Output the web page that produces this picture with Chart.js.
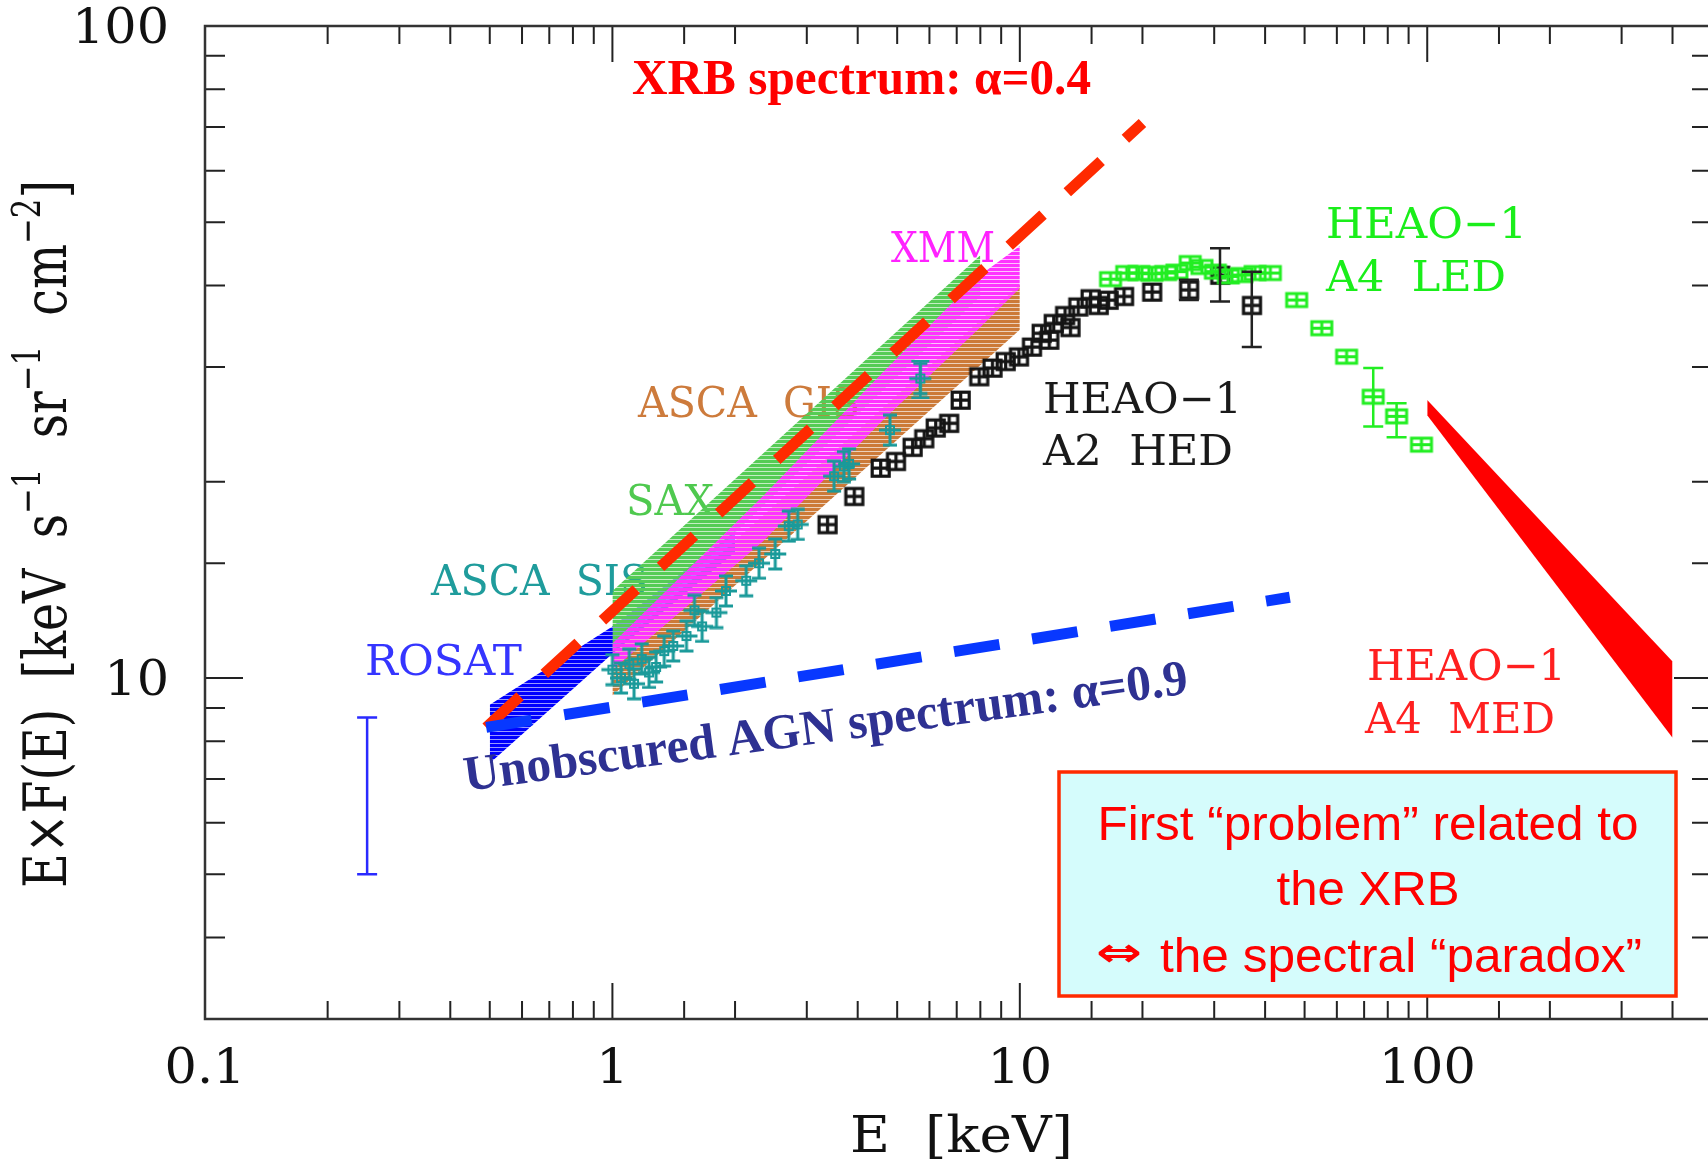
<!DOCTYPE html>
<html>
<head>
    <style>
        body, html {
            margin: 0;
            padding: 0;
            overflow: hidden;
            background: #fff;
        }

        #container {
            width: 1720px;
            height: 1162px;
        }
    </style>
    <script src="https://cdn.jsdelivr.net/npm/chart.js"></script>
</head>
<body>
    <div id="container">
        <canvas id="xrbChart"></canvas>
    </div>

    <script>
        // tick labels
        const xTickVals = [0.1, 1, 10, 100];
        const xTickLabels = ['0.1', '1', '10', '100'];
        const yTickVals = [10, 100];
        const yTickLabels = ['10', '100'];

        // bands (E in keV, upper / lower E*F(E))
        const rosatE = [0.5, 1.0, 2.0];
        const rosatHi = [9.1, 12.0, 16.8];
        const rosatLo = [7.4, 10.9, 15.6];
        const saxE = [1.0, 8.0];
        const saxHi = [13.6, 44.5];
        const saxLo = [11.0, 38.5];
        const xmmE = [1.0, 2.34, 4.6, 8.0, 10.0];
        const xmmHi = [11.3, 19.0, 29.4, 41.5, 46.0];
        const xmmLo = [10.3, 16.2, 24.8, 34.5, 39.6];
        const gisE = [1.0, 10.0];
        const gisHi = [11.0, 40.1];
        const gisLo = [9.4, 34.2];
        const medE = [100, 400];
        const medHi = [26.7, 10.6];
        const medLo = [25.3, 8.1];

        // power laws
        const xrbE = [0.49, 20];
        const xrbF = [8.4, 71];
        const agnE = [0.49, 46];
        const agnF = [8.4, 13.3];

        // ASCA SIS points
        const sisE = [1.0, 1.05, 1.1, 1.13, 1.18, 1.23, 1.28, 1.34, 1.41, 1.52, 1.59, 1.66, 1.80, 1.90, 2.13, 2.29, 2.51, 2.71, 2.85, 3.5, 3.7, 3.81, 4.8, 5.7];
        const sisF = [10.3, 10.0, 10.5, 9.8, 10.7, 10.2, 10.4, 11.0, 11.2, 11.6, 12.7, 12.0, 12.6, 13.6, 14.1, 15.0, 15.5, 17.1, 17.2, 20.4, 21.1, 21.3, 24.0, 28.8];
        const sisErrE = [5.7];
        const sisErrLo = [26.9];
        const sisErrHi = [30.6];

        // HEAO-1 A2 HED points
        const hedE = [3.37, 3.92, 4.55, 4.96, 5.45, 5.82, 6.21, 6.70, 7.15, 7.94, 8.56, 9.22, 9.94, 10.7, 11.3, 11.8, 12.1, 12.9, 13.3, 13.9, 14.9, 15.6, 16.5, 18.0, 21.1, 26.0, 31.0, 37.1];
        const hedF = [17.2, 19.0, 21.0, 21.5, 22.6, 23.3, 24.2, 24.6, 26.7, 29.0, 29.9, 30.6, 31.1, 32.2, 33.8, 33.0, 35.0, 36.0, 34.5, 37.1, 38.2, 37.3, 38.0, 38.5, 39.1, 39.4, 41.5, 37.3];
        const hedErrE = [26.0, 31.0, 37.1];
        const hedErrLo = [38.0, 37.8, 32.2];
        const hedErrHi = [40.8, 45.6, 42.0];

        // HEAO-1 A4 LED points
        const ledE = [16.7, 18.3, 19.6, 21.1, 22.8, 24.3, 26.2, 28.0, 30.2, 32.5, 35.1, 37.8, 41.2, 47.8, 55.1, 63.4, 73.7, 84.1, 96.8];
        const ledF = [40.9, 41.8, 41.8, 41.7, 41.8, 42.0, 43.3, 42.7, 42.0, 41.3, 41.5, 41.8, 41.8, 38.0, 34.4, 31.1, 27.0, 25.2, 22.8];
        const ledErrE = [73.7, 84.1];
        const ledErrLo = [24.3, 23.4];
        const ledErrHi = [29.9, 26.4];

        // lone bar at low energy
        const lowBarE = [0.25];
        const lowBarLo = [5.0];
        const lowBarHi = [8.7];

        const log = Math.log10;
        const clear = 'rgba(0,0,0,0)';

        function isDecade(v) {
            return Math.abs(log(v) - Math.round(log(v))) < 1e-6;
        }

        function hatch(color, gapAlpha) {
            const c = document.createElement('canvas');
            c.width = 4;
            c.height = 4;
            const g = c.getContext('2d');
            g.fillStyle = color;
            g.fillRect(0, 0, 4, 3);
            g.globalAlpha = gapAlpha;
            g.fillRect(0, 3, 4, 1);
            return g.createPattern(c, 'repeat');
        }

        // marker: box with a cross in it
        function boxMark(w, h, color, lw) {
            const c = document.createElement('canvas');
            c.width = w + lw * 2;
            c.height = h + lw * 2;
            const g = c.getContext('2d');
            g.strokeStyle = color;
            g.lineWidth = lw;
            g.strokeRect(lw, lw, w, h);
            g.beginPath();
            g.moveTo(lw + w / 2, lw);
            g.lineTo(lw + w / 2, lw + h);
            g.moveTo(lw, lw + h / 2);
            g.lineTo(lw + w, lw + h / 2);
            g.stroke();
            return c;
        }

        // marker: small error cross like the SIS points
        function sisMark(color) {
            const c = document.createElement('canvas');
            c.width = 26;
            c.height = 34;
            const g = c.getContext('2d');
            g.strokeStyle = color;
            g.lineWidth = 3;
            g.beginPath();
            g.moveTo(13, 2); g.lineTo(13, 32);
            g.moveTo(6, 2); g.lineTo(20, 2);
            g.moveTo(6, 32); g.lineTo(20, 32);
            g.moveTo(2, 17); g.lineTo(24, 17);
            g.stroke();
            g.lineWidth = 2;
            g.strokeRect(9, 13, 8, 8);
            return c;
        }

        function bandSets(E, hi, lo, fillStyle, order) {
            return [
                { data: E.map((e, i) => ({ x: e, y: hi[i] })), fill: '+1', backgroundColor: fillStyle, borderColor: clear, borderWidth: 0, pointRadius: 0, order },
                { data: E.map((e, i) => ({ x: e, y: lo[i] })), fill: false, borderColor: clear, borderWidth: 0, pointRadius: 0, order }
            ];
        }

        function pointSet(E, F, style, order) {
            return { data: E.map((e, i) => ({ x: e, y: F[i] })), showLine: false, pointStyle: style, pointRadius: 8, borderWidth: 0, order };
        }

        function dashSet(E, F, color, order) {
            return { data: E.map((e, i) => ({ x: e, y: F[i] })), borderColor: color, borderWidth: 11, borderDash: [46, 33], borderCapStyle: 'butt', pointRadius: 0, fill: false, order };
        }

        function fitText(ctx, text, x, y, w, center) {
            const m = ctx.measureText(text).width;
            ctx.save();
            ctx.translate(x, y);
            ctx.scale(w / m, 1);
            ctx.textAlign = 'left';
            ctx.textBaseline = 'alphabetic';
            ctx.fillText(text, center ? -m / 2 : 0, 0);
            ctx.restore();
        }

        const datasets = [
            ...bandSets(gisE, gisHi, gisLo, hatch('#cc7a38', 0.35), 10),
            ...bandSets(rosatE, rosatHi, rosatLo, hatch('#0000ff', 0.4), 9),
            ...bandSets(saxE, saxHi, saxLo, hatch('#55cc55', 0.35), 8),
            ...bandSets(xmmE, xmmHi, xmmLo, hatch('#ff33ff', 0.3), 7),
            pointSet(sisE, sisF, sisMark('#1a9a9a'), 6),
            pointSet(hedE, hedF, boxMark(17, 16, '#151515', 3.2), 5),
            pointSet(ledE, ledF, boxMark(20, 13, '#22ee22', 3), 4),
            ...bandSets(medE, medHi, medLo, '#ff0000', 3),
            dashSet(xrbE, xrbF, '#ff2a00', 2),
            dashSet(agnE, agnF, '#0838ff', 1)
        ];

        // instrument labels sit under the data
        const labelPlugin = {
            id: 'labels',
            beforeDatasetsDraw(chart) {
                const ctx = chart.ctx;
                ctx.save();
                ctx.font = '43px "DejaVu Serif"';
                const items = [
                    ['ROSAT', 365, 675, 157, '#3535ff'],
                    ['ASCA  SIS', 431, 595, 217, '#1f9c9c'],
                    ['SAX', 626, 515, 88, '#4fc94f'],
                    ['ASCA  GIS', 638, 417, 222, '#cd7b3c'],
                    ['XMM', 891, 262, 104, '#ff22ff'],
                    ['HEAO−1', 1043, 413, 199, '#1a1a1a'],
                    ['A2  HED', 1043, 465, 190, '#1a1a1a'],
                    ['HEAO−1', 1326, 238, 201, '#1aee1a'],
                    ['A4  LED', 1326, 291, 180, '#1aee1a'],
                    ['HEAO−1', 1367, 680, 199, '#ff2020'],
                    ['A4  MED', 1365, 733, 190, '#ff2020']
                ];
                items.forEach(([t, x, y, w, c]) => {
                    ctx.fillStyle = c;
                    fitText(ctx, t, x, y, w);
                });
                ctx.restore();
            }
        };

        const errorPlugin = {
            id: 'errors',
            afterDatasetsDraw(chart) {
                const { ctx, scales: { x, y } } = chart;
                function bar(e, lo, hi, color, cap) {
                    const px = x.getPixelForValue(e);
                    const p1 = y.getPixelForValue(lo);
                    const p2 = y.getPixelForValue(hi);
                    ctx.strokeStyle = color;
                    ctx.beginPath();
                    ctx.moveTo(px, p1); ctx.lineTo(px, p2);
                    ctx.moveTo(px - cap / 2, p1); ctx.lineTo(px + cap / 2, p1);
                    ctx.moveTo(px - cap / 2, p2); ctx.lineTo(px + cap / 2, p2);
                    ctx.stroke();
                }
                ctx.save();
                ctx.lineWidth = 2.5;
                hedErrE.forEach((e, i) => bar(e, hedErrLo[i], hedErrHi[i], '#222', 20));
                ledErrE.forEach((e, i) => bar(e, ledErrLo[i], ledErrHi[i], '#22ee22', 20));
                sisErrE.forEach((e, i) => bar(e, sisErrLo[i], sisErrHi[i], '#1a9a9a', 18));
                lowBarE.forEach((e, i) => bar(e, lowBarLo[i], lowBarHi[i], '#2a2aff', 20));
                ctx.restore();
            }
        };

        // box frame with inward ticks on all four sides, plus tick labels
        const framePlugin = {
            id: 'frame',
            afterDatasetsDraw(chart) {
                const { ctx, chartArea: a, scales: { x, y } } = chart;
                ctx.save();
                ctx.strokeStyle = '#222';
                ctx.lineWidth = 2;
                ctx.beginPath();
                x.ticks.forEach(t => {
                    const px = x.getPixelForValue(t.value);
                    if (px <= a.left + 1 || px >= a.right - 1) return;
                    const len = isDecade(t.value) ? 36 : 18;
                    ctx.moveTo(px, a.bottom); ctx.lineTo(px, a.bottom - len);
                    ctx.moveTo(px, a.top); ctx.lineTo(px, a.top + len);
                });
                y.ticks.forEach(t => {
                    const py = y.getPixelForValue(t.value);
                    if (py <= a.top + 1 || py >= a.bottom - 1) return;
                    const len = isDecade(t.value) ? 38 : 20;
                    ctx.moveTo(a.left, py); ctx.lineTo(a.left + len, py);
                    ctx.moveTo(a.right, py); ctx.lineTo(a.right - len, py);
                });
                ctx.stroke();
                ctx.lineWidth = 2.5;
                ctx.strokeStyle = '#333';
                ctx.strokeRect(a.left, a.top, a.right - a.left, a.bottom - a.top);

                ctx.fillStyle = '#111';
                ctx.font = '48px "DejaVu Serif"';
                ctx.textBaseline = 'alphabetic';
                xTickVals.forEach((v, i) => {
                    const px = x.getPixelForValue(v);
                    ctx.save();
                    ctx.translate(px, a.bottom + 64);
                    ctx.scale(1.06, 1);
                    ctx.textAlign = 'center';
                    ctx.fillText(xTickLabels[i], 0, 0);
                    ctx.restore();
                });
                yTickVals.forEach((v, i) => {
                    const py = y.getPixelForValue(v);
                    ctx.save();
                    ctx.translate(a.left - 36, py + 17);
                    ctx.scale(1.06, 1);
                    ctx.textAlign = 'right';
                    ctx.fillText(yTickLabels[i], 0, 0);
                    ctx.restore();
                });
                ctx.restore();
            }
        };

        const overlayPlugin = {
            id: 'overlay',
            afterDraw(chart) {
                const ctx = chart.ctx;
                ctx.save();

                // axis titles
                ctx.fillStyle = '#111';
                ctx.font = '51px "DejaVu Serif"';
                fitText(ctx, 'E  [keV]', 850, 1152, 223);

                const parts = [['E×F(E)  [keV  s', 0], ['−1', 1], ['  sr', 0], ['−1', 1], ['  cm', 0], ['−2', 1], [']', 0]];
                const fontOf = s => s ? '33px "DejaVu Serif"' : '51px "DejaVu Serif"';
                let total = 0;
                parts.forEach(([t, s]) => { ctx.font = fontOf(s); total += ctx.measureText(t).width; });
                ctx.save();
                ctx.translate(66, 534);
                ctx.scale(1.16, 1);
                ctx.rotate(-Math.PI / 2);
                ctx.scale(708 / total, 1);
                ctx.textAlign = 'left';
                let cx = -total / 2;
                parts.forEach(([t, s]) => {
                    ctx.font = fontOf(s);
                    ctx.fillText(t, cx, s ? -22 : 0);
                    cx += ctx.measureText(t).width;
                });
                ctx.restore();

                // spectrum annotations
                ctx.font = 'bold 50px "Liberation Serif"';
                ctx.fillStyle = '#ff0000';
                fitText(ctx, 'XRB spectrum: α=0.4', 632, 94, 459);

                ctx.save();
                ctx.translate(466, 791);
                ctx.rotate(-7.7 * Math.PI / 180);
                ctx.fillStyle = '#2e3192';
                fitText(ctx, 'Unobscured AGN spectrum: α=0.9', 0, 0, 730);
                ctx.restore();

                // note box
                ctx.fillStyle = '#d5fcfc';
                ctx.fillRect(1059, 772, 617, 224);
                ctx.strokeStyle = '#ff2a00';
                ctx.lineWidth = 3.5;
                ctx.strokeRect(1059, 772, 617, 224);
                ctx.fillStyle = '#ff0000';
                ctx.font = '49px "Liberation Sans"';
                fitText(ctx, 'First “problem” related to', 1368, 840, 541, true);
                fitText(ctx, 'the XRB', 1368, 905, 183, true);
                fitText(ctx, 'the spectral “paradox”', 1160, 972, 482);
                ctx.font = 'bold 40px "DejaVu Sans"';
                fitText(ctx, '⇔', 1096, 966, 46);

                ctx.restore();
            }
        };

        const xrbChart = new Chart(document.getElementById('xrbChart'), {
            type: 'line',
            data: { datasets },
            options: {
                responsive: true,
                maintainAspectRatio: false,
                animation: false,
                events: [],
                layout: { padding: { top: 26, right: 6, left: 0, bottom: 0 } },
                plugins: {
                    legend: { display: false },
                    tooltip: { enabled: false }
                },
                scales: {
                    x: {
                        type: 'logarithmic',
                        min: 0.1,
                        max: 500,
                        grid: { display: false },
                        border: { display: false },
                        ticks: { display: false },
                        afterFit: s => { s.height = 143; }
                    },
                    y: {
                        type: 'logarithmic',
                        min: 3,
                        max: 100,
                        grid: { display: false },
                        border: { display: false },
                        ticks: { display: false },
                        afterFit: s => { s.width = 205; }
                    }
                }
            },
            plugins: [labelPlugin, errorPlugin, framePlugin, overlayPlugin]
        });
    </script>
</body>
</html>
